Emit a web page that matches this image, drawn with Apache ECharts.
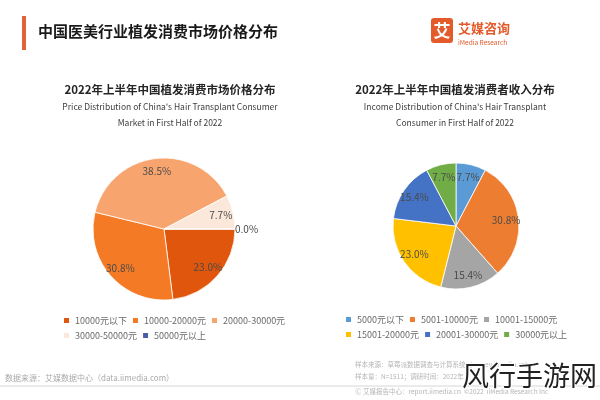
<!DOCTYPE html>
<html><head><meta charset="utf-8">
<script src="https://cdn.jsdelivr.net/npm/echarts@6/dist/echarts.min.js"></script>
<style>html,body{margin:0;padding:0;background:#fff}#c{width:600px;height:400px}</style>
</head><body><div id="c"></div>
<script>
const pageTitle = '中国医美行业植发消费市场价格分布';
const leftTitle = '2022年上半年中国植发消费市场价格分布';
const leftSub = "Price Distribution of China's Hair Transplant Consumer\nMarket in First Half of 2022";
const rightTitle = '2022年上半年中国植发消费者收入分布';
const rightSub = "Income Distribution of China's Hair Transplant\nConsumer in First Half of 2022";
const priceCats = ['10000元以下','10000-20000元','20000-30000元','30000-50000元','50000元以上'];
const priceVals = [23.0, 30.8, 38.5, 7.7, 0.0];
const priceColors = ['#E0560C','#F47A25','#F8A46E','#FCE8DA','#4A5EA8'];
const incomeCats = ['5000元以下','5001-10000元','10001-15000元','15001-20000元','20001-30000元','30000元以上'];
const incomeVals = [7.7, 30.8, 15.4, 23.0, 15.4, 7.7];
const incomeColors = ['#5B9BD5','#ED7D31','#A5A5A5','#FFC000','#4472C4','#70AD47'];

const F = '"Noto Sans CJK SC", "Noto Sans", sans-serif';
const chart = echarts.init(document.getElementById('c'), null, {renderer:'canvas'});
const fmt = p => p.value.toFixed(1) + '%';

function pieData(cats, vals, colors){
  return cats.map((n,i)=>({name:n, value:vals[i], itemStyle:{color:colors[i]}}));
}
function labelData(cats, vals){
  return cats.map((n,i)=>{
    const d = {name:n, value:vals[i]};
    if (vals[i] === 0) {
      d.label = {position:'outside', distanceToLabelLine:0};
      d.labelLine = {show:false, length:0, length2:0};
    }
    return d;
  });
}
const labelStyle = {show:true, position:'inside', formatter:fmt, color:'#4a4a4a', fontSize:10, fontFamily:F};

function legend(left, top, data, w){
  return {left:left, top:top, data:data, itemWidth:7, itemHeight:7, itemGap:4, itemTextGap:3, icon:'rect', selectedMode:false,
    formatter: n => '{a|' + n + '}',
    textStyle:{fontSize:9, color:'#6a6a6a', fontFamily:F, rich:{a:{width:w, fontSize:9, color:'#6a6a6a', fontFamily:F}}}};
}

chart.setOption({
  animation:false,
  title:[
    {text:leftTitle, subtext:leftSub, left:165, top:79, textAlign:'center', itemGap:3,
     textStyle:{fontSize:11.5, fontWeight:'bold', color:'#262626', fontFamily:F},
     subtextStyle:{fontSize:8.5, color:'#404040', fontFamily:F, lineHeight:16.5}},
    {text:rightTitle, subtext:rightSub, left:450, top:79, textAlign:'center', itemGap:3,
     textStyle:{fontSize:11.5, fontWeight:'bold', color:'#262626', fontFamily:F},
     subtextStyle:{fontSize:8.5, color:'#404040', fontFamily:F, lineHeight:16.5}}
  ],
  legend:[
    legend(57, 311, priceCats.slice(0,3), 63),
    legend(57, 326, priceCats.slice(3), 63),
    legend(339, 310, incomeCats.slice(0,3), 67),
    legend(339, 325, incomeCats.slice(3), 67)
  ],
  series:[
    {type:'pie', center:[164,229], radius:[0,71], startAngle:0, clockwise:true, silent:true,
     label:{show:false}, labelLine:{show:false}, itemStyle:{borderColor:'#fff', borderWidth:0.8},
     data:pieData(priceCats, priceVals, priceColors)},
    {type:'pie', center:[164,229], radius:[40,71], startAngle:0, clockwise:true, silent:true,
     itemStyle:{color:'rgba(0,0,0,0)'}, label:labelStyle, labelLine:{show:false},
     data:labelData(priceCats, priceVals)},
    {type:'pie', center:[456,226], radius:[0,63], startAngle:90, clockwise:true, silent:true,
     label:{show:false}, labelLine:{show:false}, itemStyle:{borderColor:'#fff', borderWidth:0.8},
     data:pieData(incomeCats, incomeVals, incomeColors)},
    {type:'pie', center:[456,226], radius:[32,63], startAngle:90, clockwise:true, silent:true,
     itemStyle:{color:'rgba(0,0,0,0)'}, label:labelStyle, labelLine:{show:false},
     data:labelData(incomeCats, incomeVals)}
  ],
  graphic:[
    {type:'rect', shape:{x:22, y:16, width:4, height:34}, style:{fill:'#E0633A'}},
    {type:'text', x:38, y:31, style:{text:pageTitle, font:'bold 15px '+F, fill:'#1a1a1a', textVerticalAlign:'middle'}},
    {type:'rect', shape:{x:431, y:18, width:22, height:25, r:3}, style:{fill:'#E35A2B'}},
    {type:'text', x:442, y:31, style:{text:'艾', font:'bold 17px '+F, fill:'#fff', textAlign:'center', textVerticalAlign:'middle'}},
    {type:'text', x:458, y:28, style:{text:'艾媒咨询', font:'bold 13px '+F, fill:'#E35A2B', textVerticalAlign:'middle'}},
    {type:'text', x:458, y:43, style:{text:'iMedia Research', font:'6.5px '+F, fill:'#E35A2B', textVerticalAlign:'middle'}},
    {type:'text', x:5, y:378, style:{text:'数据来源：艾媒数据中心（data.iimedia.com）', font:'8px '+F, fill:'#aaaaaa', textVerticalAlign:'middle'}},
    {type:'text', x:355, y:365, style:{text:'样本来源：草莓派数据调查与计算系统（survey.iimedia.cn）', font:'6.5px '+F, fill:'#b5b5b5', textVerticalAlign:'middle'}},
    {type:'text', x:355, y:377, style:{text:'样本量：N=1511；调研时间：2022年', font:'6.5px '+F, fill:'#b5b5b5', textVerticalAlign:'middle'}},
    {type:'line', shape:{x1:0, y1:386, x2:600, y2:386}, style:{stroke:'#d6d6d6', lineWidth:1}},
    {type:'text', x:355, y:392, style:{text:'Ⓒ 艾媒报告中心：report.iimedia.cn  ©2022  iiMedia Research Inc', font:'6.5px '+F, fill:'#b5b5b5', textVerticalAlign:'middle'}},
    {type:'text', x:462, y:376, style:{text:'风行手游网', font:'27px '+F, fill:'#222', stroke:'#fff', lineWidth:2, textVerticalAlign:'middle'}}
  ]
});
</script></body></html>
